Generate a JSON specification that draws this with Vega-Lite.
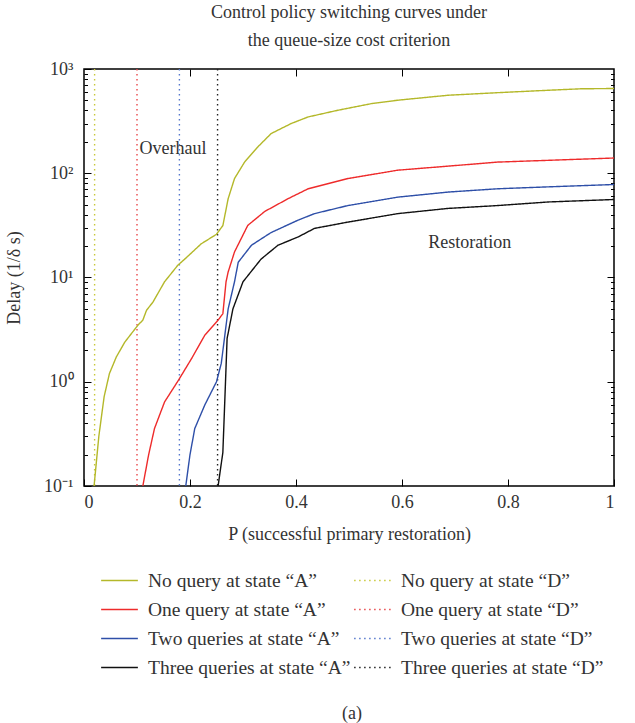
{
  "$schema": "https://vega.github.io/schema/vega-lite/v6.json",
  "width": 530,
  "height": 417,
  "padding": {"left": 5, "top": 4, "right": 18, "bottom": 2},
  "title": {
    "text": ["Control policy switching curves under", "the queue-size cost criterion"],
    "font": "Liberation Serif",
    "fontSize": 18,
    "fontWeight": "normal",
    "color": "#333333",
    "lineHeight": 28,
    "offset": 10
  },
  "config": {
    "view": {"stroke": "#000000", "strokeWidth": 1.5},
    "axis": {
      "labelFont": "Liberation Serif",
      "labelFontSize": 18,
      "labelColor": "#333333",
      "titleFont": "Liberation Serif",
      "titleFontSize": 18,
      "titleFontWeight": "normal",
      "titleColor": "#333333",
      "tickColor": "#000000",
      "domainColor": "#000000",
      "domainWidth": 1.5,
      "grid": false
    }
  },
  "datasets": {
    "curves": [
      {"s": "No query at state “A”", "p": 0.019, "d": 0.1},
      {"s": "No query at state “A”", "p": 0.028, "d": 0.3},
      {"s": "No query at state “A”", "p": 0.038, "d": 0.72},
      {"s": "No query at state “A”", "p": 0.048, "d": 1.2},
      {"s": "No query at state “A”", "p": 0.061, "d": 1.73},
      {"s": "No query at state “A”", "p": 0.077, "d": 2.4},
      {"s": "No query at state “A”", "p": 0.102, "d": 3.5},
      {"s": "No query at state “A”", "p": 0.111, "d": 3.9},
      {"s": "No query at state “A”", "p": 0.118, "d": 4.85},
      {"s": "No query at state “A”", "p": 0.13, "d": 5.8},
      {"s": "No query at state “A”", "p": 0.152, "d": 9.1},
      {"s": "No query at state “A”", "p": 0.177, "d": 13.1},
      {"s": "No query at state “A”", "p": 0.19, "d": 15},
      {"s": "No query at state “A”", "p": 0.221, "d": 21},
      {"s": "No query at state “A”", "p": 0.25, "d": 26},
      {"s": "No query at state “A”", "p": 0.262, "d": 31.5},
      {"s": "No query at state “A”", "p": 0.272, "d": 57},
      {"s": "No query at state “A”", "p": 0.284, "d": 89},
      {"s": "No query at state “A”", "p": 0.303, "d": 128},
      {"s": "No query at state “A”", "p": 0.328, "d": 179},
      {"s": "No query at state “A”", "p": 0.353, "d": 240},
      {"s": "No query at state “A”", "p": 0.391, "d": 300},
      {"s": "No query at state “A”", "p": 0.423, "d": 347},
      {"s": "No query at state “A”", "p": 0.479, "d": 402},
      {"s": "No query at state “A”", "p": 0.542, "d": 465},
      {"s": "No query at state “A”", "p": 0.592, "d": 502},
      {"s": "No query at state “A”", "p": 0.687, "d": 560},
      {"s": "No query at state “A”", "p": 0.781, "d": 593},
      {"s": "No query at state “A”", "p": 0.875, "d": 625},
      {"s": "No query at state “A”", "p": 0.938, "d": 646},
      {"s": "No query at state “A”", "p": 1.0, "d": 650},
      {"s": "One query at state “A”", "p": 0.111, "d": 0.1},
      {"s": "One query at state “A”", "p": 0.122, "d": 0.2},
      {"s": "One query at state “A”", "p": 0.133, "d": 0.356},
      {"s": "One query at state “A”", "p": 0.152, "d": 0.64},
      {"s": "One query at state “A”", "p": 0.178, "d": 1.03},
      {"s": "One query at state “A”", "p": 0.203, "d": 1.67},
      {"s": "One query at state “A”", "p": 0.228, "d": 2.8},
      {"s": "One query at state “A”", "p": 0.253, "d": 3.9},
      {"s": "One query at state “A”", "p": 0.262, "d": 4.5},
      {"s": "One query at state “A”", "p": 0.268, "d": 9.1},
      {"s": "One query at state “A”", "p": 0.272, "d": 11.3},
      {"s": "One query at state “A”", "p": 0.284, "d": 17.6},
      {"s": "One query at state “A”", "p": 0.309, "d": 31.6},
      {"s": "One query at state “A”", "p": 0.341, "d": 43},
      {"s": "One query at state “A”", "p": 0.385, "d": 57},
      {"s": "One query at state “A”", "p": 0.423, "d": 71},
      {"s": "One query at state “A”", "p": 0.498, "d": 89},
      {"s": "One query at state “A”", "p": 0.592, "d": 107},
      {"s": "One query at state “A”", "p": 0.687, "d": 117},
      {"s": "One query at state “A”", "p": 0.781, "d": 128},
      {"s": "One query at state “A”", "p": 0.875, "d": 133},
      {"s": "One query at state “A”", "p": 1.0, "d": 140},
      {"s": "Two queries at state “A”", "p": 0.192, "d": 0.1},
      {"s": "Two queries at state “A”", "p": 0.2, "d": 0.2},
      {"s": "Two queries at state “A”", "p": 0.209, "d": 0.356},
      {"s": "Two queries at state “A”", "p": 0.228, "d": 0.6},
      {"s": "Two queries at state “A”", "p": 0.25, "d": 1.0},
      {"s": "Two queries at state “A”", "p": 0.259, "d": 1.5},
      {"s": "Two queries at state “A”", "p": 0.272, "d": 5.0},
      {"s": "Two queries at state “A”", "p": 0.284, "d": 9.1},
      {"s": "Two queries at state “A”", "p": 0.291, "d": 14},
      {"s": "Two queries at state “A”", "p": 0.316, "d": 20.4},
      {"s": "Two queries at state “A”", "p": 0.353, "d": 27},
      {"s": "Two queries at state “A”", "p": 0.404, "d": 35.5},
      {"s": "Two queries at state “A”", "p": 0.435, "d": 41},
      {"s": "Two queries at state “A”", "p": 0.498, "d": 49},
      {"s": "Two queries at state “A”", "p": 0.592, "d": 59},
      {"s": "Two queries at state “A”", "p": 0.687, "d": 66},
      {"s": "Two queries at state “A”", "p": 0.781, "d": 71},
      {"s": "Two queries at state “A”", "p": 0.875, "d": 74},
      {"s": "Two queries at state “A”", "p": 1.0, "d": 78},
      {"s": "Three queries at state “A”", "p": 0.253, "d": 0.1},
      {"s": "Three queries at state “A”", "p": 0.262, "d": 0.21},
      {"s": "Three queries at state “A”", "p": 0.267, "d": 1.0},
      {"s": "Three queries at state “A”", "p": 0.27, "d": 2.6},
      {"s": "Three queries at state “A”", "p": 0.281, "d": 5.0},
      {"s": "Three queries at state “A”", "p": 0.3, "d": 9.1},
      {"s": "Three queries at state “A”", "p": 0.334, "d": 15},
      {"s": "Three queries at state “A”", "p": 0.366, "d": 20.4},
      {"s": "Three queries at state “A”", "p": 0.404, "d": 24.5},
      {"s": "Three queries at state “A”", "p": 0.435, "d": 29.6},
      {"s": "Three queries at state “A”", "p": 0.498, "d": 34},
      {"s": "Three queries at state “A”", "p": 0.592, "d": 41},
      {"s": "Three queries at state “A”", "p": 0.687, "d": 46},
      {"s": "Three queries at state “A”", "p": 0.781, "d": 49},
      {"s": "Three queries at state “A”", "p": 0.875, "d": 53},
      {"s": "Three queries at state “A”", "p": 1.0, "d": 56}
    ],
    "rules": [
      {"s": "No query at state “D”", "p": 0.02},
      {"s": "One query at state “D”", "p": 0.1},
      {"s": "Two queries at state “D”", "p": 0.18},
      {"s": "Three queries at state “D”", "p": 0.252}
    ],
    "notes": [
      {"label": "Overhaul", "p": 0.168, "d": 170},
      {"label": "Restoration", "p": 0.728, "d": 21.5}
    ]
  },
  "layer": [
    {
      "data": {"name": "rules"},
      "mark": {"type": "rule", "strokeWidth": 1.4},
      "encoding": {
        "x": {"field": "p", "type": "quantitative", "scale": {"domain": [0, 1], "nice": false}, "axis": null},
        "color": {"field": "s", "type": "nominal"},
        "strokeDash": {"field": "s", "type": "nominal"}
      }
    },
    {
      "data": {"name": "curves"},
      "mark": {"type": "line", "strokeWidth": 1.4, "clip": true},
      "encoding": {
        "x": {
          "field": "p", "type": "quantitative",
          "scale": {"domain": [0, 1], "nice": false},
          "axis": {"values": [0, 0.2, 0.4, 0.6, 0.8, 1], "format": "~g", "tickSize": -7, "labelPadding": 14, "domain": false, "title": "P (successful primary restoration)", "titlePadding": 14}
        },
        "y": {
          "field": "d", "type": "quantitative",
          "scale": {"type": "log", "domain": [0.1, 1000], "nice": false},
          "axis": {"values": [0.1, 1, 10, 100, 1000], "labelExpr": "['10⁻¹','10⁰','10¹','10²','10³'][round(log(datum.value)/LN10)+1]", "tickSize": -7, "labelPadding": 18, "domain": false, "title": "Delay (1/δ s)", "titlePadding": 20}
        },
        "color": {
          "field": "s", "type": "nominal",
          "scale": {
            "domain": ["No query at state “A”", "No query at state “D”", "One query at state “A”", "One query at state “D”", "Two queries at state “A”", "Two queries at state “D”", "Three queries at state “A”", "Three queries at state “D”"],
            "range": ["#b4b82a", "#c8c83a", "#ee2b2b", "#e8474a", "#2e4fa8", "#5577cc", "#111111", "#222222"]
          },
          "legend": {
            "orient": "bottom",
            "columns": 2,
            "symbolType": "stroke",
            "symbolSize": 1350,
            "symbolStrokeWidth": 1.5,
            "labelFont": "Liberation Serif",
            "labelFontSize": 19.5,
            "labelColor": "#333333",
            "labelLimit": 400,
            "rowPadding": 0,
            "columnPadding": 0,
            "labelOffset": 9,
            "padding": 16,
            "offset": 2,
            "title": "(a)",
            "titleOrient": "bottom",
            "titleAnchor": "middle",
            "titleFont": "Liberation Serif",
            "titleFontSize": 18,
            "titleFontWeight": "normal",
            "titleColor": "#333333",
            "titlePadding": 28
          }
        },
        "strokeDash": {
          "field": "s", "type": "nominal",
          "scale": {
            "domain": ["No query at state “A”", "No query at state “D”", "One query at state “A”", "One query at state “D”", "Two queries at state “A”", "Two queries at state “D”", "Three queries at state “A”", "Three queries at state “D”"],
            "range": [[1, 0], [1.5, 3.5], [1, 0], [1.5, 3.5], [1, 0], [1.5, 3.5], [1, 0], [1.5, 3.5]]
          }
        }
      }
    },
    {
      "data": {"name": "curves"},
      "mark": {"type": "line", "opacity": 0},
      "encoding": {
        "detail": {"field": "s"},
        "x": {"field": "p", "type": "quantitative", "scale": {"domain": [0, 1], "nice": false},
          "axis": {"orient": "top", "values": [0.2, 0.4, 0.6, 0.8], "labels": false, "tickSize": -7, "domain": false, "title": null}},
        "y": {"field": "d", "type": "quantitative", "scale": {"type": "log", "domain": [0.1, 1000], "nice": false},
          "axis": {"orient": "left", "values": [0.2, 0.3, 0.4, 0.5, 0.6, 0.7, 0.8, 0.9, 2, 3, 4, 5, 6, 7, 8, 9, 20, 30, 40, 50, 60, 70, 80, 90, 200, 300, 400, 500, 600, 700, 800, 900], "labels": false, "tickSize": -3.5, "domain": false, "title": null}}
      }
    },
    {
      "data": {"name": "curves"},
      "mark": {"type": "line", "opacity": 0},
      "encoding": {
        "detail": {"field": "s"},
        "x": {"field": "p", "type": "quantitative", "scale": {"domain": [0, 1], "nice": false}, "axis": null},
        "y": {"field": "d", "type": "quantitative", "scale": {"type": "log", "domain": [0.1, 1000], "nice": false},
          "axis": {"orient": "right", "values": [1, 10, 100], "labels": false, "tickSize": -7, "domain": false, "title": null}}
      }
    },
    {
      "data": {"name": "curves"},
      "mark": {"type": "line", "opacity": 0},
      "encoding": {
        "detail": {"field": "s"},
        "x": {"field": "p", "type": "quantitative", "scale": {"domain": [0, 1], "nice": false}, "axis": null},
        "y": {"field": "d", "type": "quantitative", "scale": {"type": "log", "domain": [0.1, 1000], "nice": false},
          "axis": {"orient": "right", "values": [0.2, 0.3, 0.4, 0.5, 0.6, 0.7, 0.8, 0.9, 2, 3, 4, 5, 6, 7, 8, 9, 20, 30, 40, 50, 60, 70, 80, 90, 200, 300, 400, 500, 600, 700, 800, 900], "labels": false, "tickSize": -3.5, "domain": false, "title": null}}
      }
    },
    {
      "data": {"name": "notes"},
      "mark": {"type": "text", "font": "Liberation Serif", "fontSize": 18, "color": "#333333"},
      "encoding": {
        "x": {"field": "p", "type": "quantitative", "scale": {"domain": [0, 1], "nice": false}, "axis": null},
        "y": {"field": "d", "type": "quantitative", "scale": {"type": "log", "domain": [0.1, 1000], "nice": false}, "axis": null},
        "text": {"field": "label"}
      }
    }
  ],
  "resolve": {"axis": {"x": "independent", "y": "independent"}}
}
